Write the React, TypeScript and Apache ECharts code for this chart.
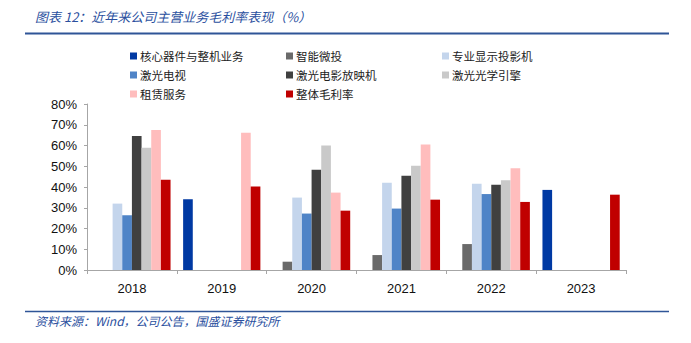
import React, { useEffect, useRef } from "react";
import * as echarts from "echarts";

const years = ["2018", "2019", "2020", "2021", "2022", "2023"];
const seriesNames = [
  "核心器件与整机业务",
  "智能微投",
  "专业显示投影机",
  "激光电视",
  "激光电影放映机",
  "激光光学引擎",
  "租赁服务",
  "整体毛利率",
];
const coreDevices = [null, 34.1, null, null, null, 38.6];
const smartProjector = [null, null, 4.0, 7.2, 12.5, null];
const proDisplay = [32.0, null, 34.9, 42.1, 41.6, null];
const laserTV = [26.4, null, 27.2, 29.6, 36.6, null];
const cinemaProjector = [64.6, null, 48.3, 45.4, 41.1, null];
const opticalEngine = [58.9, null, 60.0, 50.2, 43.2, null];
const rental = [67.5, 66.1, 37.3, 60.5, 49.0, null];
const overall = [43.5, 40.2, 28.6, 33.9, 32.8, 36.3];
const seriesData = [coreDevices, smartProjector, proDisplay, laserTV, cinemaProjector, opticalEngine, rental, overall];
const colors = ["#0039a3", "#6a6a6a", "#c4d5ec", "#4f84c7", "#404040", "#c9c9c9", "#ffbdbd", "#c00000"];

const CJK = '"Noto Sans CJK SC", "Liberation Sans", sans-serif';
const NUM = '"Liberation Sans", Arial, sans-serif';

export default function App() {
  const ref = useRef<HTMLDivElement>(null);
  useEffect(() => {
    const chart = echarts.init(ref.current!, null, { renderer: "svg" });
    const legendCommon = {
      orient: "vertical" as const,
      top: 45,
      icon: "rect",
      itemWidth: 7,
      itemHeight: 7,
      itemGap: 7,
      textStyle: { fontFamily: CJK, fontSize: 11.5, lineHeight: 12, color: "#222", padding: [0, 0, 0, -2] },
      selectedMode: false,
    };
    chart.setOption({
      animation: false,
      backgroundColor: "#fff",
      color: colors,
      grid: { left: 87, right: 65, top: 104, bottom: 73 },
      legend: [
        { ...legendCommon, left: 125, data: [seriesNames[0], seriesNames[3], seriesNames[6]] },
        { ...legendCommon, left: 281, data: [seriesNames[1], seriesNames[4], seriesNames[7]] },
        { ...legendCommon, left: 437, data: [seriesNames[2], seriesNames[5]] },
      ],
      xAxis: {
        type: "category",
        data: years,
        axisLine: { lineStyle: { color: "#a6a6a6", width: 1 } },
        axisTick: { show: true, length: 4, lineStyle: { color: "#a6a6a6" } },
        axisLabel: { fontFamily: NUM, fontSize: 13, color: "#111", margin: 12 },
      },
      yAxis: {
        type: "value",
        min: 0,
        max: 80,
        interval: 10,
        splitLine: { show: false },
        axisLine: { show: true, lineStyle: { color: "#a6a6a6", width: 1 } },
        axisTick: { show: true, length: 3, lineStyle: { color: "#a6a6a6" } },
        axisLabel: { fontFamily: NUM, fontSize: 13, color: "#111", formatter: "{value}%", margin: 10 },
      },
      series: seriesNames.map((name, i) => ({
        name,
        type: "bar",
        data: seriesData[i],
        barGap: "0%",
        barCategoryGap: "14%",
        itemStyle: { color: colors[i] },
      })),
      graphic: [
        {
          type: "text",
          left: 35,
          top: 10,
          style: {
            text: "图表 12：近年来公司主营业务毛利率表现（%）",
            fontFamily: CJK,
            fontStyle: "italic",
            fontSize: 13,
            fill: "#2a4f9e",
          },
        },
        {
          type: "line",
          shape: { x1: 25, y1: 33.5, x2: 669, y2: 33.5 },
          style: { stroke: "#2f5597", lineWidth: 2 },
        },
        {
          type: "line",
          shape: { x1: 25, y1: 311.5, x2: 669, y2: 311.5 },
          style: { stroke: "#2f5597", lineWidth: 1.5 },
        },
        {
          type: "text",
          left: 35,
          top: 314,
          style: {
            text: "资料来源：Wind，公司公告，国盛证券研究所",
            fontFamily: CJK,
            fontStyle: "italic",
            fontSize: 12,
            fill: "#2a4f9e",
          },
        },
      ],
    });
    return () => chart.dispose();
  }, []);
  return (
    <div style={{ position: "fixed", left: 0, top: 0, width: 691, height: 343, background: "#fff" }}>
      <div ref={ref} style={{ width: 691, height: 343 }} />
    </div>
  );
}
